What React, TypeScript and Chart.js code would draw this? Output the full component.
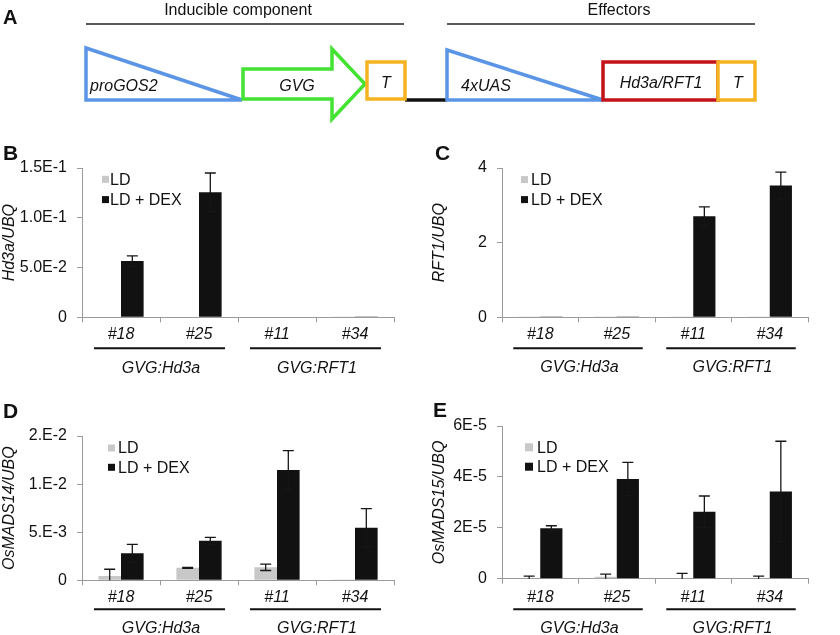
import React, { useEffect, useRef } from 'react';
import { Chart, registerables } from 'chart.js';

Chart.register(...registerables);

const FONT = "'Liberation Sans', Arial, Helvetica, sans-serif";

// ---- shared categories ----
const categories = ['#18', '#25', '#11', '#34'];
const groupLabels = ['GVG:Hd3a', 'GVG:RFT1'];
const groupSpans = [[0, 1], [2, 3]];
const seriesNames = ['LD', 'LD + DEX'];

// ---- Panel B: Hd3a/UBQ ----
const hd3aLD = [0.0005, 0.0005, 0.0005, 0.0008];
const hd3aLDErr = [0, 0, 0, 0];
const hd3aDEX = [0.0565, 0.1256, 0.0005, 0.0008];
const hd3aDEXErr = [0.0053, 0.0194, 0, 0];
const hd3aTicks = [0, 0.05, 0.1, 0.15];
const hd3aTickLabels = ['0', '5.0E-2', '1.0E-1', '1.5E-1'];

// ---- Panel C: RFT1/UBQ ----
const rft1LD = [0.01, 0.01, 0.01, 0.01];
const rft1LDErr = [0, 0, 0, 0];
const rft1DEX = [0.02, 0.02, 2.71, 3.53];
const rft1DEXErr = [0, 0, 0.25, 0.36];
const rft1Ticks = [0, 2, 4];
const rft1TickLabels = ['0', '2', '4'];

// ---- Panel D: OsMADS14/UBQ ----
const mads14LD = [0.00045, 0.0013, 0.00135, 0.00004];
const mads14LDErr = [0.0007, 0.00005, 0.00033, 0];
const mads14DEX = [0.0028, 0.00412, 0.01147, 0.00547];
const mads14DEXErr = [0.00094, 0.00035, 0.00201, 0.00198];
const mads14Ticks = [0, 0.005, 0.01, 0.015];
const mads14TickLabels = ['0', '5.E-3', '1.E-2', '2.E-2'];

// ---- Panel E: OsMADS15/UBQ ----
const mads15LD = [0.0000002, 0.0000008, 0.0000002, 0.0000002];
const mads15LDErr = [0.0000008, 0.000001, 0.0000019, 0.0000008];
const mads15DEX = [0.0000198, 0.0000392, 0.0000263, 0.0000343];
const mads15DEXErr = [0.000001, 0.0000065, 0.0000062, 0.0000197];
const mads15Ticks = [0, 0.00002, 0.00004, 0.00006];
const mads15TickLabels = ['0', '2E-5', '4E-5', '6E-5'];

const GRAY = '#c8c8c8';
const BLACK = '#111111';
const AXIS = '#9a9a9a';
const TEXT = '#111111';

const decorPlugin = {
  id: 'decor',
  afterDatasetsDraw(chart: any, _args: any, opts: any) {
    const { ctx, chartArea } = chart;
    const ys = chart.scales.y;
    const cap = 11;
    ctx.save();
    ctx.beginPath();
    ctx.rect(chartArea.left, chartArea.top - 3, chartArea.right - chartArea.left, chartArea.bottom - chartArea.top + 3);
    ctx.clip();
    ctx.strokeStyle = '#161616';
    ctx.lineWidth = 1.3;
    chart.data.datasets.forEach((ds: any, di: number) => {
      const errs = ds.errors;
      if (!errs) return;
      const meta = chart.getDatasetMeta(di);
      meta.data.forEach((bar: any, i: number) => {
        const v = ds.data[i];
        const e = errs[i];
        if (!e) return;
        const x = bar.x;
        const yt = ys.getPixelForValue(v + e);
        const yb = ys.getPixelForValue(v - e);
        ctx.beginPath();
        ctx.moveTo(x, yt);
        ctx.lineTo(x, yb);
        ctx.moveTo(x - cap / 2, yt);
        ctx.lineTo(x + cap / 2, yt);
        if (v - e >= 0) {
          ctx.moveTo(x - cap / 2, yb);
          ctx.lineTo(x + cap / 2, yb);
        }
        ctx.stroke();
      });
    });
    ctx.restore();
  },
  afterDraw(chart: any, _args: any, opts: any) {
    const { ctx, chartArea } = chart;
    const xs = chart.scales.x;
    ctx.save();
    // legend
    const lg = opts.legend;
    chart.data.datasets.forEach((ds: any, i: number) => {
      const cy = chartArea.top + lg.y[i];
      ctx.fillStyle = ds.backgroundColor;
      ctx.fillRect(chartArea.left + lg.x, cy - lg.box / 2, lg.box, lg.box);
      ctx.fillStyle = TEXT;
      ctx.font = `16px ${FONT}`;
      ctx.textAlign = 'left';
      ctx.textBaseline = 'middle';
      ctx.fillText(ds.label, chartArea.left + lg.tx, cy + 1);
    });
    // group underlines + labels
    groupSpans.forEach((span, gi) => {
      const x0 = xs.getPixelForValue(span[0]);
      const x1 = xs.getPixelForValue(span[1]);
      const ly = chartArea.bottom + opts.underline;
      ctx.strokeStyle = '#111';
      ctx.lineWidth = 2;
      ctx.beginPath();
      ctx.moveTo(x0 - 27, ly);
      ctx.lineTo(x1 + 26, ly);
      ctx.stroke();
      ctx.fillStyle = TEXT;
      ctx.font = `italic 16px ${FONT}`;
      ctx.textAlign = 'center';
      ctx.textBaseline = 'middle';
      ctx.fillText(groupLabels[gi], (x0 + x1) / 2 + 1, chartArea.bottom + opts.groupLabel);
    });
    ctx.restore();
  },
};

type PanelCfg = {
  left: number;
  top: number;
  width: number;
  height: number;
  pad: { top: number; right: number; bottom: number; left: number };
  title: string;
  titlePad: number;
  ld: number[];
  ldErr: number[];
  dex: number[];
  dexErr: number[];
  ticks: number[];
  tickLabels: string[];
  xLabelPad: number;
  underline: number;
  groupLabel: number;
  legend: { x: number; box: number; tx: number; y: number[] };
};

function Panel({ cfg }: { cfg: PanelCfg }) {
  const ref = useRef<HTMLCanvasElement | null>(null);
  useEffect(() => {
    if (!ref.current) return;
    const chart = new Chart(ref.current, {
      type: 'bar',
      data: {
        labels: categories,
        datasets: [
          { label: seriesNames[0], data: cfg.ld, backgroundColor: GRAY, errors: cfg.ldErr } as any,
          { label: seriesNames[1], data: cfg.dex, backgroundColor: BLACK, errors: cfg.dexErr } as any,
        ],
      },
      options: {
        animation: false,
        responsive: false,
        maintainAspectRatio: false,
        devicePixelRatio: 1,
        categoryPercentage: 0.58,
        barPercentage: 1,
        layout: { padding: cfg.pad },
        plugins: {
          legend: { display: false },
          tooltip: { enabled: false },
          decor: { legend: cfg.legend, underline: cfg.underline, groupLabel: cfg.groupLabel },
        } as any,
        scales: {
          x: {
            offset: true,
            grid: { display: true, drawOnChartArea: false, drawTicks: true, tickLength: 5, color: AXIS, offset: true },
            border: { display: true, color: AXIS, width: 1 },
            ticks: {
              color: TEXT,
              padding: cfg.xLabelPad,
              font: { family: FONT, size: 16, style: 'italic' },
              maxRotation: 0,
              autoSkip: false,
            },
            afterFit: (s: any) => {
              s.height = 40;
            },
          },
          y: {
            min: cfg.ticks[0],
            max: cfg.ticks[cfg.ticks.length - 1],
            grid: { display: true, drawOnChartArea: false, drawTicks: true, tickLength: 5, color: AXIS },
            border: { display: true, color: AXIS, width: 1 },
            afterBuildTicks: (s: any) => {
              s.ticks = cfg.ticks.map((v) => ({ value: v }));
            },
            ticks: {
              color: TEXT,
              padding: 10,
              font: { family: FONT, size: 16 },
              callback: (_v: any, i: number) => cfg.tickLabels[i],
            },
            title: {
              display: true,
              text: cfg.title,
              color: TEXT,
              font: { family: FONT, size: 16, style: 'italic' },
              padding: { top: cfg.titlePad, bottom: 0 },
            },
            afterFit: (s: any) => {
              s.width = 82;
            },
          },
        },
      },
      plugins: [decorPlugin as any],
    } as any);
    return () => chart.destroy();
  }, [cfg]);
  return (
    <canvas
      ref={ref}
      width={cfg.width}
      height={cfg.height}
      style={{ position: 'absolute', left: cfg.left, top: cfg.top, width: cfg.width, height: cfg.height }}
    />
  );
}

const panels: PanelCfg[] = [
  {
    left: 0, top: 110, width: 420, height: 270,
    pad: { top: 58, right: 26, bottom: 22.7, left: 0 },
    title: 'Hd3a/UBQ', titlePad: 0,
    ld: hd3aLD, ldErr: hd3aLDErr, dex: hd3aDEX, dexErr: hd3aDEXErr,
    ticks: hd3aTicks, tickLabels: hd3aTickLabels,
    xLabelPad: 3, underline: 31, groupLabel: 51,
    legend: { x: 20, box: 7, tx: 28, y: [11.3, 31.6] },
  },
  {
    left: 420, top: 110, width: 420, height: 270,
    pad: { top: 58, right: 32, bottom: 22.7, left: 0 },
    title: 'RFT1/UBQ', titlePad: 9.5,
    ld: rft1LD, ldErr: rft1LDErr, dex: rft1DEX, dexErr: rft1DEXErr,
    ticks: rft1Ticks, tickLabels: rft1TickLabels,
    xLabelPad: 3, underline: 31, groupLabel: 50,
    legend: { x: 19, box: 7, tx: 29, y: [11.6, 31.6] },
  },
  {
    left: 0, top: 380, width: 420, height: 255,
    pad: { top: 56, right: 26, bottom: 14.7, left: 0 },
    title: 'OsMADS14/UBQ', titlePad: 0,
    ld: mads14LD, ldErr: mads14LDErr, dex: mads14DEX, dexErr: mads14DEXErr,
    ticks: mads14Ticks, tickLabels: mads14TickLabels,
    xLabelPad: 3, underline: 29, groupLabel: 48,
    legend: { x: 26, box: 7, tx: 36, y: [12, 31.3] },
  },
  {
    left: 420, top: 380, width: 420, height: 255,
    pad: { top: 46, right: 32, bottom: 16.3, left: 0 },
    title: 'OsMADS15/UBQ', titlePad: 9.5,
    ld: mads15LD, ldErr: mads15LDErr, dex: mads15DEX, dexErr: mads15DEXErr,
    ticks: mads15Ticks, tickLabels: mads15TickLabels,
    xLabelPad: 4.5, underline: 30.5, groupLabel: 49.5,
    legend: { x: 23, box: 8, tx: 35, y: [21.3, 40.7] },
  },
];

const BLUE = '#5b95e6';
const GREEN = '#44e232';
const ORANGE = '#f6b321';
const RED = '#c4121a';

function Overlay() {
  const sw = 3.5;
  return (
    <svg
      width={840}
      height={635}
      style={{ position: 'absolute', left: 0, top: 0, pointerEvents: 'none' }}
      fontFamily={FONT}
    >
      {/* panel letters */}
      <text x={3} y={24} fontSize={20} fontWeight="bold" fill={TEXT}>A</text>
      <text x={3} y={160} fontSize={21} fontWeight="bold" fill={TEXT}>B</text>
      <text x={435} y={160} fontSize={21} fontWeight="bold" fill={TEXT}>C</text>
      <text x={3} y={418} fontSize={21} fontWeight="bold" fill={TEXT}>D</text>
      <text x={433} y={417} fontSize={21} fontWeight="bold" fill={TEXT}>E</text>

      {/* headers */}
      <text x={238} y={9.5} fontSize={16} textAnchor="middle" dominantBaseline="central" fill={TEXT}>Inducible component</text>
      <line x1={86} y1={24} x2={404} y2={24} stroke="#222" strokeWidth={1.5} />
      <text x={619} y={9.5} fontSize={16} textAnchor="middle" dominantBaseline="central" fill={TEXT}>Effectors</text>
      <line x1={447} y1={24} x2={755} y2={24} stroke="#222" strokeWidth={1.5} />

      {/* inducible component */}
      <line x1={405} y1={100} x2={447} y2={100} stroke="#111" strokeWidth={sw} />
      <polygon points="86,48 86,100 242,100" fill="none" stroke={BLUE} strokeWidth={sw} />
      <polygon points="243,69 332,69 332,49 365,84 332,119 332,99 243,99" fill="#fff" stroke={GREEN} strokeWidth={sw} />
      <rect x={367} y={62} width={38} height={37} fill="#fff" stroke={ORANGE} strokeWidth={sw} />
      <text x={90} y={85} fontSize={16} fontStyle="italic" dominantBaseline="central" fill={TEXT}>proGOS2</text>
      <text x={297} y={85} fontSize={16} fontStyle="italic" textAnchor="middle" dominantBaseline="central" fill={TEXT}>GVG</text>
      <text x={386} y={82} fontSize={16} fontStyle="italic" textAnchor="middle" dominantBaseline="central" fill={TEXT}>T</text>

      {/* effectors */}
      <polygon points="447,50 447,100 603,100" fill="none" stroke={BLUE} strokeWidth={sw} />
      <rect x={603} y={62} width={115} height={38} fill="#fff" stroke={RED} strokeWidth={sw} />
      <rect x={718} y={62} width={37} height={38} fill="#fff" stroke={ORANGE} strokeWidth={sw} />
      <text x={461} y={85} fontSize={16} fontStyle="italic" dominantBaseline="central" fill={TEXT}>4xUAS</text>
      <text x={661} y={82} fontSize={16} fontStyle="italic" textAnchor="middle" dominantBaseline="central" fill={TEXT}>Hd3a/RFT1</text>
      <text x={738} y={82} fontSize={16} fontStyle="italic" textAnchor="middle" dominantBaseline="central" fill={TEXT}>T</text>
    </svg>
  );
}

export default function App() {
  return (
    <div style={{ position: 'absolute', left: 0, top: 0, width: 840, height: 635, background: '#fff', overflow: 'hidden' }}>
      {panels.map((p, i) => (
        <Panel key={i} cfg={p} />
      ))}
      <Overlay />
    </div>
  );
}
